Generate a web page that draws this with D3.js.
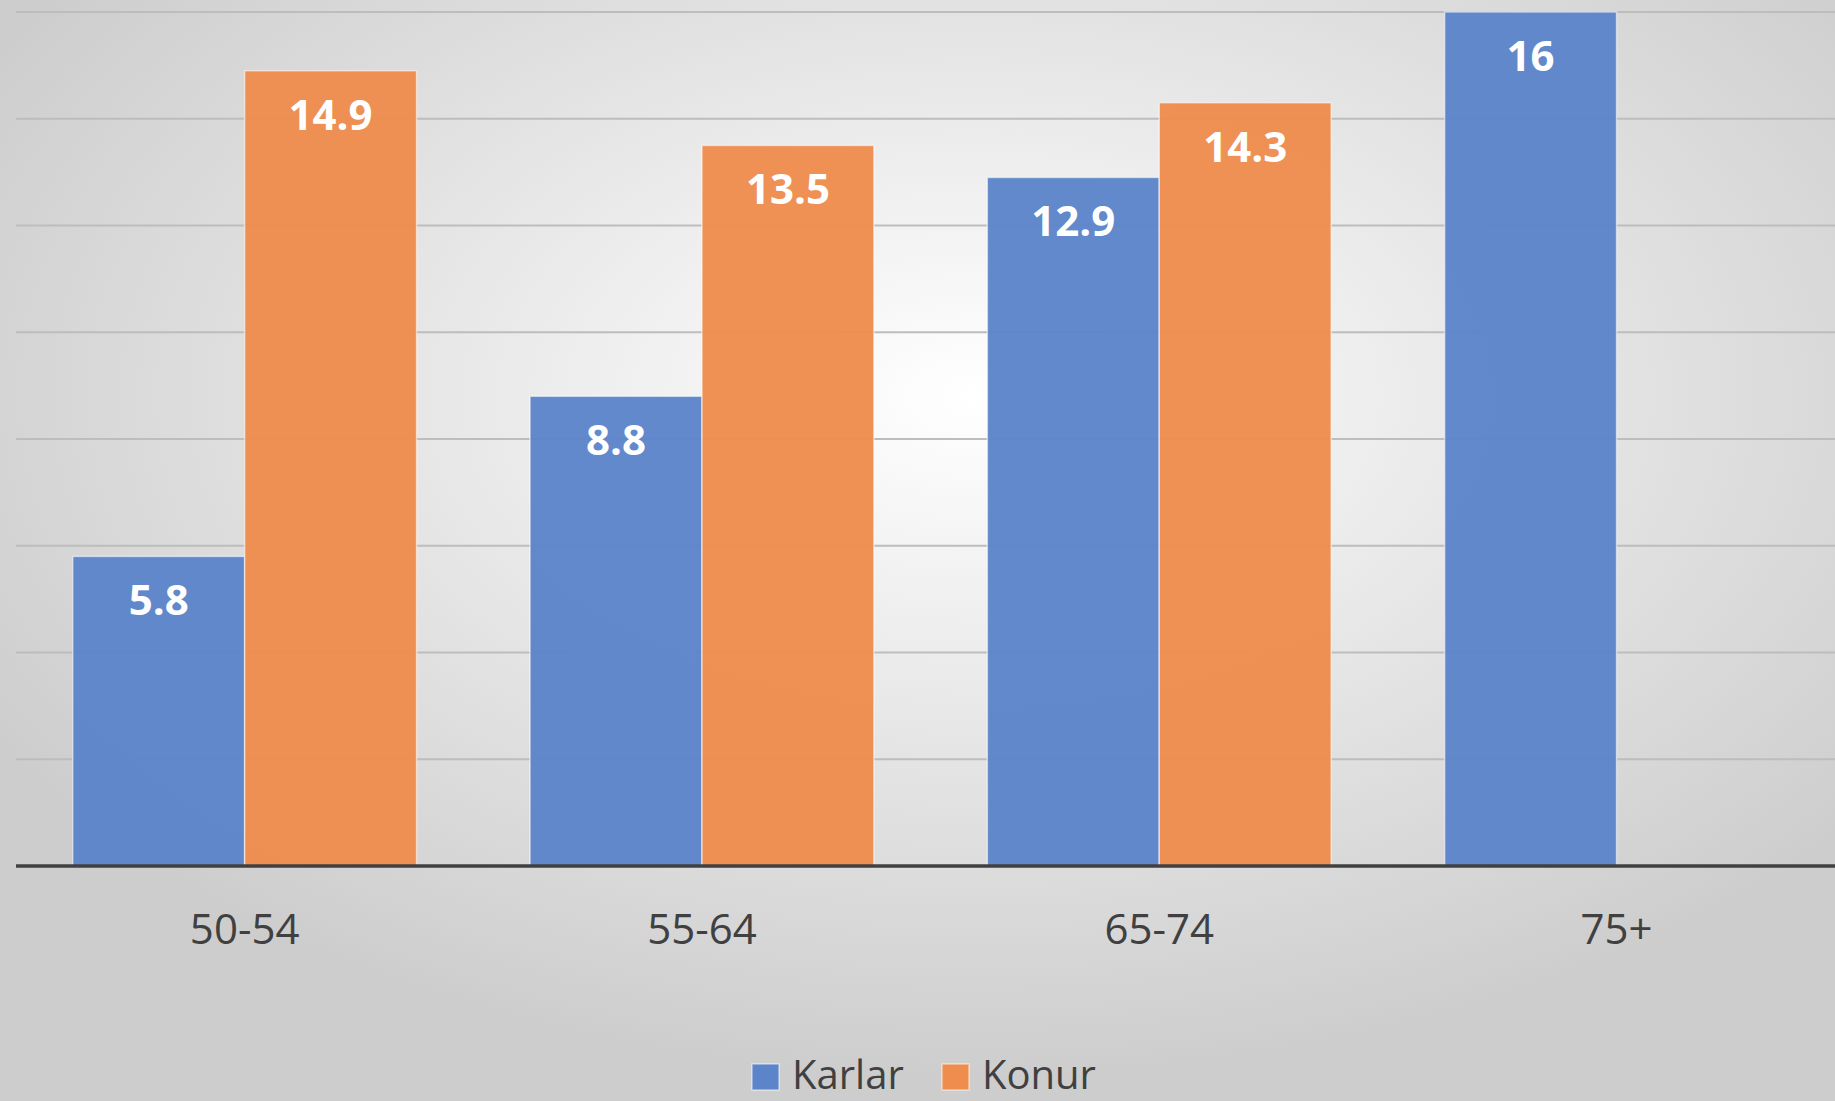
<!DOCTYPE html>
<html>
<head>
<meta charset="utf-8">
<script src="https://cdn.jsdelivr.net/npm/d3@7"></script>
<style>
  html, body { margin: 0; padding: 0; overflow: hidden; }
  svg { display: block; font-family: "Open Sans", sans-serif; }
</style>
</head>
<body>
<svg width="1835" height="1101"></svg>
<script>
const categories = ["50-54", "55-64", "65-74", "75+"];
const seriesNames = ["Karlar", "Konur"];
const karlar = [5.8, 8.8, 12.9, 16];
const konur = [14.9, 13.5, 14.3, null];
const gridTicks = [0, 2, 4, 6, 8, 10, 12, 14, 16];

const colors = {Karlar: "#5b84c9", Konur: "#ee8d4d"};

const svg = d3.select("svg");
const W = 1835, H = 1101;
const margin = {top: 12, right: 0, bottom: 235, left: 16};
const width = W - margin.left - margin.right;
const height = H - margin.top - margin.bottom;
// the category bands run a little past the right edge of the picture
const bandStep = 457.3;

// background
const defs = svg.append("defs");
const grad = defs.append("radialGradient")
    .attr("id", "bg")
    .attr("cx", "53%").attr("cy", "36%").attr("r", "62%");
grad.append("stop").attr("offset", "0%").attr("stop-color", "#ffffff");
grad.append("stop").attr("offset", "100%").attr("stop-color", "#cdcdcd");
svg.append("rect").attr("width", W).attr("height", H).attr("fill", "url(#bg)");

const g = svg.append("g").attr("transform", `translate(${margin.left},${margin.top})`);

const x0 = d3.scaleBand().domain(categories).range([0, bandStep * categories.length]).padding(0);
const x1 = d3.scaleBand().domain(seriesNames).range([0, x0.bandwidth()])
    .paddingInner(0).paddingOuter(0.33);
const y = d3.scaleLinear().domain([0, 16]).range([height, 0]);

// gridlines
g.append("g")
    .selectAll("line")
    .data(gridTicks.slice(1))
    .join("line")
    .attr("x1", 0).attr("x2", width)
    .attr("y1", d => y(d)).attr("y2", d => y(d))
    .attr("stroke", "#bdbdbd")
    .attr("stroke-width", 2);

const rows = categories.map((c, i) => ({cat: c, Karlar: karlar[i], Konur: konur[i]}));

const groups = g.selectAll(".grp")
    .data(rows)
    .join("g")
    .attr("class", "grp")
    .attr("transform", d => `translate(${x0(d.cat)},0)`);

const bars = groups.selectAll("g.bar")
    .data(d => seriesNames.filter(s => d[s] != null).map(s => ({key: s, value: d[s]})))
    .join("g")
    .attr("class", "bar");

bars.append("rect")
    .attr("x", d => x1(d.key))
    .attr("y", d => y(d.value))
    .attr("width", x1.bandwidth())
    .attr("height", d => height - y(d.value))
    .attr("fill", d => colors[d.key])
    .attr("fill-opacity", 0.96)
    .attr("stroke", "rgba(255,255,255,0.55)")
    .attr("stroke-width", 1.5);

bars.append("text")
    .attr("x", d => x1(d.key) + x1.bandwidth() / 2)
    .attr("y", d => y(d.value) + 59)
    .attr("text-anchor", "middle")
    .attr("fill", "#ffffff")
    .attr("font-weight", "bold")
    .attr("font-size", "42px")
    .text(d => d.value);

// baseline
g.append("line")
    .attr("x1", 0).attr("x2", width)
    .attr("y1", height).attr("y2", height)
    .attr("stroke", "#404040")
    .attr("stroke-width", 3.5);

// category labels
const xAxis = d3.axisBottom(x0).tickSize(0).tickPadding(0);
const ax = g.append("g")
    .attr("transform", `translate(0,${height})`)
    .call(xAxis);
ax.select(".domain").remove();
ax.selectAll("text")
    .attr("y", 78)
    .attr("dy", null)
    .attr("fill", "#404040")
    .attr("font-size", "42px")
    .attr("font-family", "Open Sans, sans-serif");

// legend
const legend = svg.append("g").attr("transform", "translate(752,1089)");
const items = legend.selectAll("g")
    .data(seriesNames)
    .join("g")
    .attr("transform", (d, i) => `translate(${i === 0 ? 0 : 190},0)`);
items.append("rect")
    .attr("x", 0).attr("y", -25)
    .attr("width", 27).attr("height", 26)
    .attr("fill", d => colors[d])
    .attr("stroke", "rgba(255,255,255,0.5)")
    .attr("stroke-width", 1.5);
items.append("text")
    .attr("x", 40).attr("y", 0)
    .attr("fill", "#404040")
    .attr("font-size", "40px")
    .text(d => d);
</script>
</body>
</html>
